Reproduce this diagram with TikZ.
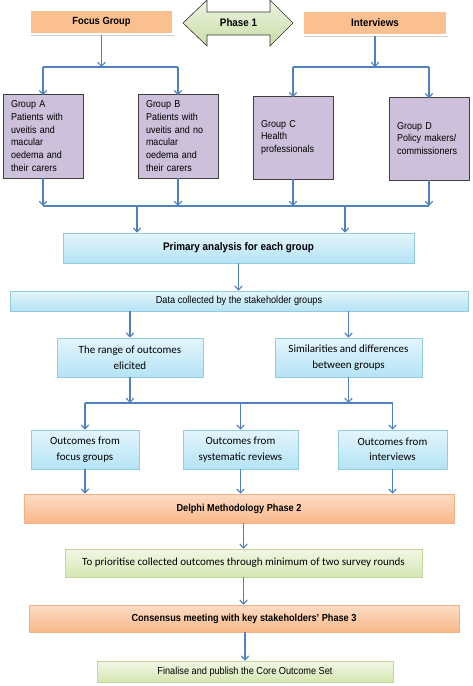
\documentclass[tikz,border=0pt]{standalone}
\usepackage{fontspec}
\setmainfont{Liberation Sans}[FakeStretch=0.9]
\newfontfamily\calib{Carlito}
\usetikzlibrary{arrows.meta,shadows}
\definecolor{arrowblue}{HTML}{4F81BD}
\definecolor{orTop}{HTML}{FCDCC4}
\definecolor{orBot}{HTML}{F8B88A}
\definecolor{orFlat}{HTML}{FAC090}
\definecolor{orEdge}{HTML}{F4B183}
\definecolor{blTop}{HTML}{E4F5FC}
\definecolor{blBot}{HTML}{B4E3F5}
\definecolor{blEdge}{HTML}{92CDDC}
\definecolor{grTop}{HTML}{F2F7E6}
\definecolor{grBot}{HTML}{D5E6B2}
\definecolor{grEdge}{HTML}{C3D69B}
\definecolor{purp}{HTML}{CCC0DA}
\definecolor{phTop}{HTML}{EDF3E2}
\definecolor{phBot}{HTML}{C9DDA6}
\begin{document}
\begin{tikzpicture}[x=1pt,y=-1pt,
  box/.style={rectangle, inner sep=0pt, align=center, anchor=center},
  shad/.style={drop shadow={shadow xshift=1pt,shadow yshift=-1.3pt,opacity=0.35,fill=black!70}},
  orangebox/.style={box, shad, draw=orEdge, line width=0.6pt, top color=orTop, bottom color=orBot},
  headbox/.style={box, drop shadow={shadow xshift=1pt,shadow yshift=-1.5pt,opacity=0.3,fill=black!60}, draw=white, line width=2.5pt, fill=orFlat},
  bluebox/.style={box, shad, draw=blEdge, line width=0.6pt, top color=blTop, bottom color=blBot},
  greenbox/.style={box, shad, draw=grEdge, line width=0.6pt, top color=grTop, bottom color=grBot},
  groupbox/.style={box, shad, draw=black!75, line width=0.6pt, fill=purp, align=left, text width=64pt, font=\fontsize{10}{12.8}\selectfont},
  arrowfont/.style={font=\fontsize{10.2}{12}\selectfont},
  boldfont/.style={font=\fontsize{10.2}{12}\selectfont\bfseries},
  calfont/.style={font=\calib\fontsize{11}{15.5}\selectfont},
  conn/.style={draw=arrowblue, line width=1.1pt},
  arr/.style={conn, -{Straight Barb[length=4pt,width=7.5pt,line width=1.1pt]}}
]
\useasboundingbox (0,0) rectangle (473,686);

% Phase 1 double arrow
\draw[black!80, line width=0.6pt, top color=phTop, bottom color=phBot]
  (183,23) -- (207,0) -- (207,12) -- (270,12) -- (270,0) -- (293,23) -- (270,46) -- (270,35) -- (207,35) -- (207,46) -- cycle;
\node[box, font=\fontsize{10.9}{12}\selectfont\bfseries] (ph1) at (238.5,23) {Phase 1};

% header boxes
\node[headbox, minimum width=143pt, minimum height=24pt, font=\fontsize{10.4}{12}\selectfont\bfseries] (fg) at (101.5,22) {Focus Group};
\node[headbox, minimum width=144pt, minimum height=24pt, font=\fontsize{10.8}{12}\selectfont\bfseries] (iv) at (375,23) {Interviews};

% group boxes
\node[groupbox, minimum width=80pt, minimum height=84pt] (ga) at (43,136) {Group A\\Patients with\\uveitis and\\macular\\oedema and\\their carers};
\node[groupbox, minimum width=80pt, minimum height=84pt] (gb) at (178,136) {Group B\\Patients with\\uveitis and no\\macular\\oedema and\\their carers};
\node[groupbox, minimum width=80pt, minimum height=83pt] (gc) at (293,137.5) {Group C\\Health\\professionals};
\node[groupbox, minimum width=80pt, minimum height=83pt] (gd) at (429,138.5) {Group D\\Policy makers/\\commissioners};

% analysis boxes
\node[bluebox, minimum width=351pt, minimum height=30pt, font=\fontsize{11}{12}\selectfont\bfseries] (pa) at (238.5,248) {Primary analysis for each group};
\node[bluebox, minimum width=458pt, minimum height=20pt, arrowfont] (dc) at (239,301) {Data collected by the stakeholder groups};
\node[bluebox, minimum width=146pt, minimum height=39pt, calfont] (ro) at (130,357.5) {The range of outcomes\\elicited};
\node[bluebox, minimum width=147pt, minimum height=39pt, calfont] (sd) at (348.5,357.5) {Similarities and differences\\between groups};

\node[bluebox, minimum width=108pt, minimum height=39pt, calfont] (of) at (85,449.5) {Outcomes from\\focus groups};
\node[bluebox, minimum width=115pt, minimum height=39pt, calfont] (os) at (240.5,449.5) {Outcomes from\\systematic reviews};
\node[bluebox, minimum width=109pt, minimum height=39pt, calfont] (oi) at (392.5,449.5) {Outcomes from\\interviews};

\node[orangebox, minimum width=430pt, minimum height=29pt, boldfont] (dm) at (239,508.5) {Delphi Methodology Phase 2};
\node[greenbox, minimum width=357pt, minimum height=28pt, calfont] (pr) at (243.5,563) {To prioritise collected outcomes through minimum of two survey rounds};
\node[orangebox, minimum width=430pt, minimum height=27pt, boldfont] (cm) at (244,618.5) {Consensus meeting with key stakeholders’ Phase 3};
\node[greenbox, minimum width=296pt, minimum height=21pt, arrowfont] (fi) at (245,671.5) {Finalise and publish the Core Outcome Set};

% junction coordinates
\coordinate (j1) at (101.5,67);
\coordinate (j2) at (375,67);
\coordinate (j3) at (238,206);
\coordinate (p1) at (137,206);
\coordinate (p2) at (345,206);
\coordinate (j4) at (240,403);

% top connectors
\draw[arr] (fg.south) -- (j1);
\draw[conn] (ga.north |- j1) -- (gb.north |- j1);
\draw[arr] (ga.north |- j1) -- ([yshift=-1.5pt]ga.north);
\draw[arr] (gb.north |- j1) -- ([yshift=-1.5pt]gb.north);
\draw[arr] (iv.south) -- (j2);
\draw[conn] (gc.north |- j2) -- (gd.north |- j2);
\draw[arr] (gc.north |- j2) -- ([yshift=-1.5pt]gc.north);
\draw[arr] (gd.north |- j2) -- ([yshift=-1.5pt]gd.north);

% group outputs
\draw[arr] (ga.south) -- (ga.south |- j3);
\draw[arr] (gb.south) -- (gb.south |- j3);
\draw[arr] (gc.south) -- (gc.south |- j3);
\draw[arr] (gd.south) -- (gd.south |- j3);
\draw[conn] (ga.south |- j3) -- (gd.south |- j3);
\draw[arr] (p1) -- (p1 |- pa.north);
\draw[arr] (p2) -- (p2 |- pa.north);

% analysis
\draw[arr] (pa.south) -- (pa.south |- dc.north);
\draw[arr] (ro.north |- dc.south) -- (ro.north);
\draw[arr] (sd.north |- dc.south) -- (sd.north);
\draw[arr] (ro.south) -- (ro.south |- j4);
\draw[arr] (sd.south) -- (sd.south |- j4);
\draw[conn] (of.north |- j4) -- (oi.north |- j4);
\draw[arr] (of.north |- j4) -- (of.north);
\draw[arr] (os.north |- j4) -- (os.north);
\draw[arr] (oi.north |- j4) -- (oi.north);
\draw[arr] (of.south) -- (of.south |- dm.north);
\draw[arr] (os.south) -- (os.south |- dm.north);
\draw[arr] (oi.south) -- (oi.south |- dm.north);
\draw[arr] (pr.north |- dm.south) -- (pr.north);
\draw[arr] (pr.south) -- (pr.south |- cm.north);
\draw[arr] (fi.north |- cm.south) -- (fi.north);
\end{tikzpicture}
\end{document}
